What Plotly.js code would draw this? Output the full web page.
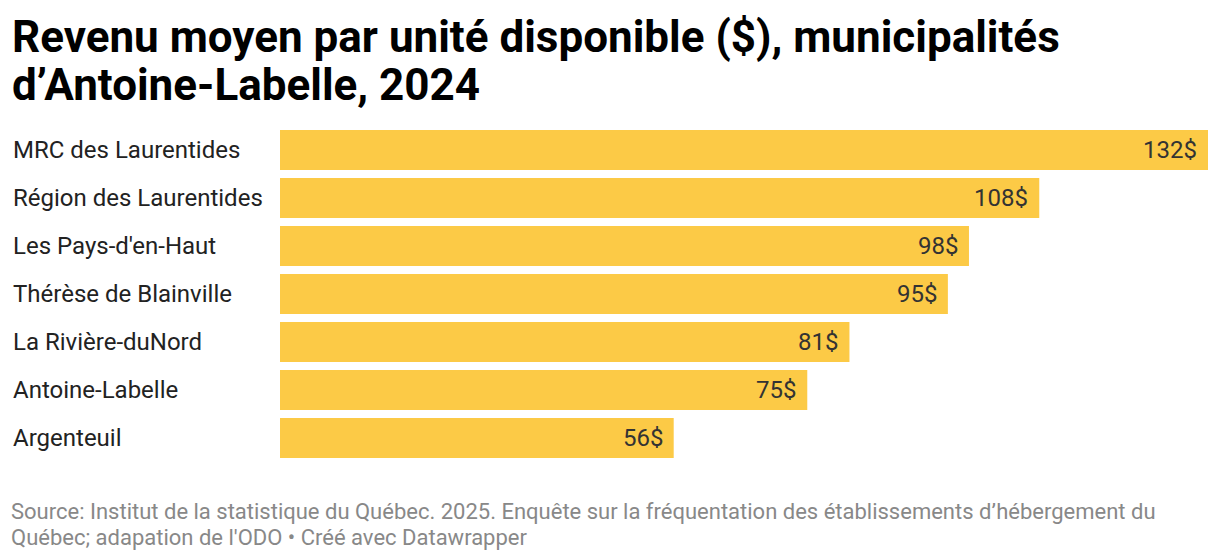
<!DOCTYPE html>
<html><head><meta charset="utf-8">
<script src="https://cdn.plot.ly/plotly-3.0.1.min.js"></script>
<style>html,body{margin:0;padding:0;background:#fff;}#chart{width:1220px;height:560px;}</style>
</head><body><div id="chart"></div>
<script>
const categories = ["MRC des Laurentides","Région des Laurentides","Les Pays-d'en-Haut","Thérèse de Blainville","La Rivière-duNord","Antoine-Labelle","Argenteuil"];
const values = [132,108,98,95,81,75,56];
const titleLines = ["Revenu moyen par unité disponible ($), municipalités", "d’Antoine-Labelle, 2024"];
const sourceLines = ["Source: Institut de la statistique du Québec. 2025. Enquête sur la fréquentation des établissements d’hébergement du", "Québec; adapation de l'ODO • Créé avec Datawrapper"];

const W = 1220, H = 560, L = 280, R = 12, T = 126, B = 98;
const plotW = W - L - R, plotH = H - T - B;
const px2x = p => (p - L) / plotW;
const px2y = p => (H - B - p) / plotH;

const trace = {
  type: 'bar', orientation: 'h',
  y: categories, x: values,
  marker: {color: '#fcca46'},
  hoverinfo: 'none'
};

const annotations = [];
categories.forEach((c, i) => {
  annotations.push({
    xref: 'paper', yref: 'y', x: px2x(11), y: c,
    xanchor: 'left', yanchor: 'middle', showarrow: false,
    text: c, font: {family: 'Roboto', size: 24, color: '#222222'}
  });
  annotations.push({
    xref: 'x', yref: 'y', x: values[i], y: c, xshift: -9,
    xanchor: 'right', yanchor: 'middle', showarrow: false,
    text: values[i] + '$', font: {family: 'Roboto', size: 24, color: '#333333'}
  });
});
[37, 85].forEach((p, i) => annotations.push({
  xref: 'paper', yref: 'paper', x: px2x(10), y: px2y(p),
  xanchor: 'left', yanchor: 'middle', showarrow: false,
  text: '<b>' + titleLines[i] + '</b>', font: {family: 'Roboto', size: 44, color: '#000000'}
}));
[511, 537].forEach((p, i) => annotations.push({
  xref: 'paper', yref: 'paper', x: px2x(9), y: px2y(p),
  xanchor: 'left', yanchor: 'middle', showarrow: false,
  text: sourceLines[i], font: {family: 'Roboto', size: 22, color: '#888888'}
}));

const layout = {
  width: W, height: H,
  margin: {l: L, r: R, t: T, b: B},
  paper_bgcolor: '#ffffff', plot_bgcolor: '#ffffff',
  xaxis: {range: [0, 132], visible: false, fixedrange: true},
  yaxis: {autorange: 'reversed', showticklabels: false, showgrid: false, zeroline: false, fixedrange: true},
  bargap: 0.17,
  showlegend: false,
  annotations: annotations
};

Plotly.newPlot('chart', [trace], layout, {displayModeBar: false, staticPlot: true});
</script></body></html>
